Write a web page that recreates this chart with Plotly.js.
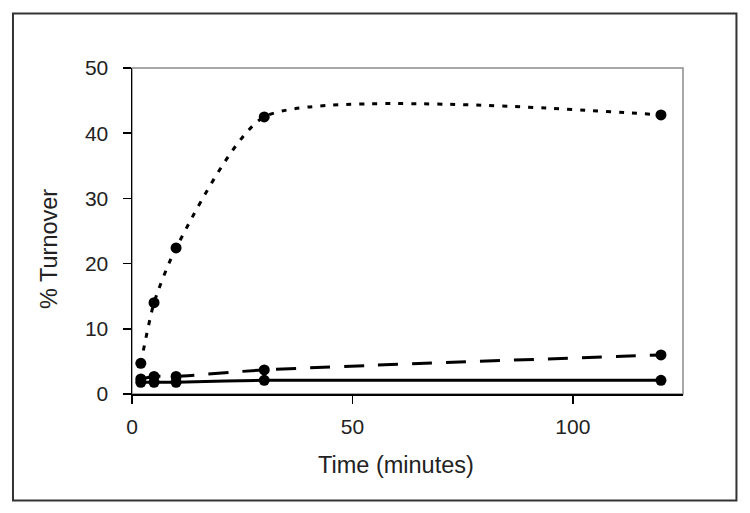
<!DOCTYPE html>
<html>
<head>
<meta charset="utf-8">
<script src="https://cdn.plot.ly/plotly-3.0.1.min.js"></script>
<style>html,body{margin:0;padding:0;background:#fff;}#chart{width:750px;height:513px;}</style>
</head>
<body>
<div id="chart"></div>
<script>
var timeMinutes = [2, 5, 10, 30, 120];
var seriesDotted = [4.7, 14.0, 22.4, 42.5, 42.8];
var seriesDashed = [2.3, 2.7, 2.7, 3.7, 6.0];
var seriesSolid = [1.8, 1.8, 1.8, 2.1, 2.1];
var xTicks = [0, 50, 100];
var yTicks = [0, 10, 20, 30, 40, 50];

function mk(y, dash, sm) {
  return {
    x: timeMinutes, y: y, type: 'scatter', mode: 'lines+markers',
    line: {color: '#000', width: 3, dash: dash, shape: 'spline', smoothing: sm},
    marker: {color: '#000', size: 11, symbol: 'circle'},
    cliponaxis: false, hoverinfo: 'skip'
  };
}
var data = [mk(seriesSolid, 'solid', 0.6), mk(seriesDashed, '20px,14px', 0.6), mk(seriesDotted, '5px,8px', 0.6)];

var font = {family: 'Liberation Sans, Arial, sans-serif', color: '#222'};
var layout = {
  width: 750, height: 513,
  margin: {l: 132, r: 67, t: 68, b: 119, pad: 0},
  paper_bgcolor: '#fff', plot_bgcolor: '#fff',
  showlegend: false,
  font: font,
  xaxis: {
    range: [0, 125], tickvals: xTicks, ticktext: xTicks.map(String),
    showgrid: false, zeroline: false, showline: true, linecolor: '#000', linewidth: 1.5,
    ticks: 'outside', ticklen: 8, tickwidth: 1.5, tickcolor: '#000',
    tickfont: {family: font.family, size: 21, color: '#222'}, ticklabelstandoff: 5
  },
  yaxis: {
    range: [0, 50], tickvals: yTicks, ticktext: yTicks.map(String),
    showgrid: false, zeroline: false, showline: true, linecolor: '#000', linewidth: 1.5,
    ticks: 'outside', ticklen: 8, tickwidth: 1.5, tickcolor: '#000',
    tickfont: {family: font.family, size: 21, color: '#222'}, ticklabelstandoff: 10
  },
  shapes: [
    {type: 'rect', xref: 'paper', yref: 'paper', x0: 0, x1: 1, y0: 0, y1: 1,
     line: {color: '#8c8c8c', width: 1.5}, layer: 'below'},
    {type: 'rect', xref: 'paper', yref: 'paper', x0: -0.2160, x1: 1.0970, y0: -0.3267, y1: 1.1672,
     line: {color: '#333', width: 2}, layer: 'below'}
  ],
  annotations: [
    {text: 'Time (minutes)', xref: 'paper', yref: 'paper', x: (396 - 132) / 551, y: (394 - 465) / 326,
     showarrow: false, xanchor: 'center', yanchor: 'middle', font: {family: font.family, size: 23.5, color: '#222'}},
    {text: '% Turnover', xref: 'paper', yref: 'paper', x: (49 - 132) / 551, y: (394 - 249) / 326,
     showarrow: false, xanchor: 'center', yanchor: 'middle', textangle: -90, font: {family: font.family, size: 23.5, color: '#222'}}
  ]
};
Plotly.newPlot('chart', data, layout, {staticPlot: true, displayModeBar: false});
</script>
</body>
</html>
